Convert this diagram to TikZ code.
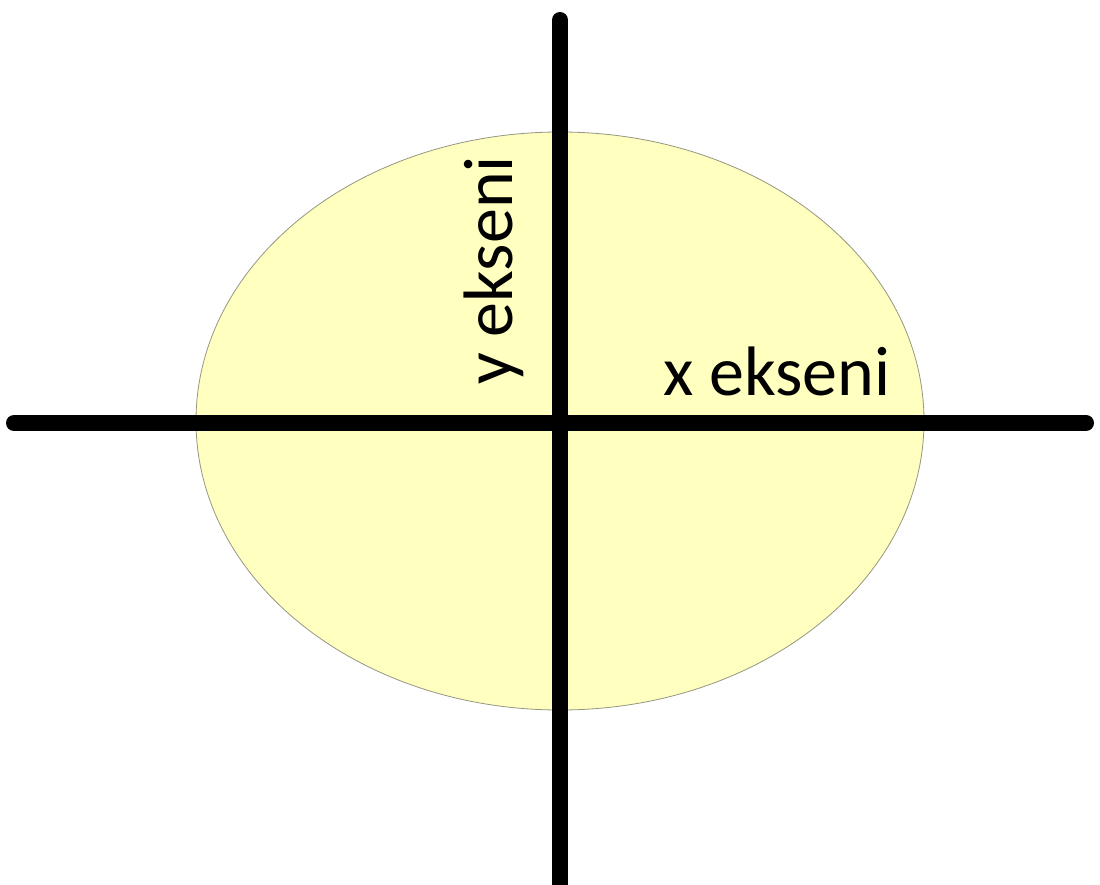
\documentclass[tikz,border=0pt]{standalone}
\usepackage{fontspec}
\setmainfont{Carlito}
\begin{document}
\begin{tikzpicture}[x=1pt,y=-1pt,
  axis/.style={line width=16pt,line cap=round,black},
  lbl/.style={inner sep=0pt,font=\fontsize{70}{80}\selectfont}]
\useasboundingbox (0,0) rectangle (1100,885);
\fill[white] (0,0) rectangle (1100,885);
\draw[fill={rgb,255:red,255;green,255;blue,192},draw={rgb,255:red,150;green,150;blue,130},line width=0.8pt] (560,421) ellipse [x radius=364,y radius=289];
\coordinate (L) at (14,423);
\coordinate (R) at (1086,423);
\coordinate (T) at (560,20);
\coordinate (B) at (560,885);
\draw[axis] (L) -- (R);
\draw[axis] (T) -- (B);
\node[lbl,anchor=base west] (xl) at (663,395) {x ekseni};
\node[lbl,anchor=base west,rotate=90] (yl) at (512,385) {y ekseni};
\end{tikzpicture}
\end{document}
